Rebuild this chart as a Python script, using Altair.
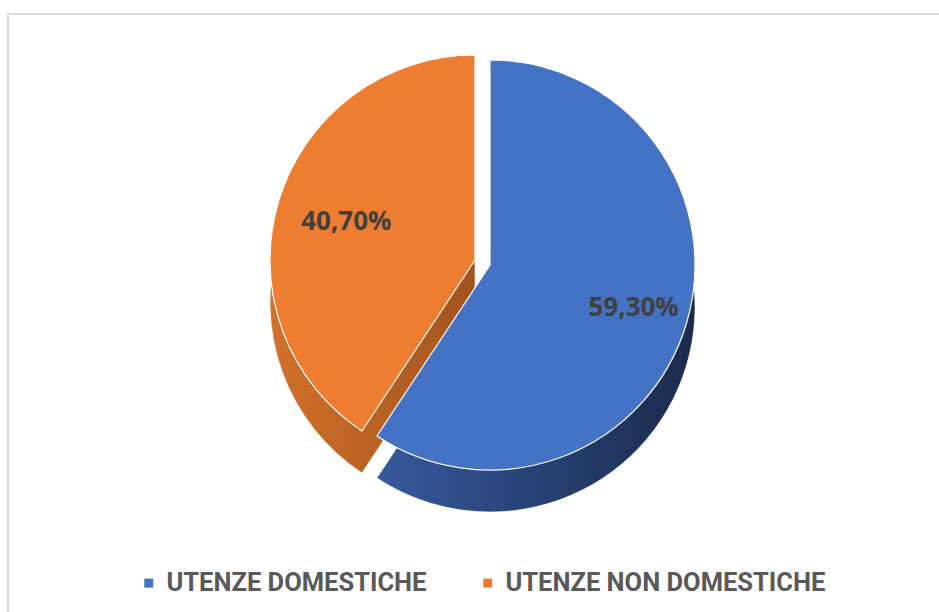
import math
import altair as alt
import pandas as pd

# ---- data ----
categories = ["UTENZE DOMESTICHE", "UTENZE NON DOMESTICHE"]
values = [59.3, 40.7]
labels = ["59,30%", "40,70%"]
colors = ["#4472c4", "#ed7d31"]

df = pd.DataFrame({
    "categoria": categories,
    "valore": values,
    "etichetta": labels,
    "ordine": list(range(len(categories))),
})

# ---- layout / style ----
W, H = 931, 598
CX, CY = 482, 251          # pie centre inside the view
R = 205                    # pie radius
D = 42                     # depth of the pseudo-3D side
EX, EY = -15, -5           # explosion of the second slice
LABEL_FONT = "Open Sans"
LEGEND_FONT = "Roboto"

theta_scale = alt.Scale(domain=[0, 100], range=[0, 2 * math.pi])

base = alt.Chart(df).transform_window(
    fine="sum(valore)", sort=[alt.SortField("ordine")]
).transform_calculate(
    inizio="datum.fine - datum.valore",
    mezzo="datum.fine - datum.valore / 2",
)

pos = dict(
    x=alt.value(CX),
    y=alt.value(CY),
    theta=alt.Theta("inizio:Q", scale=theta_scale),
    theta2="fine:Q",
)

blue_side_fill = {
    "gradient": "linear", "x1": 0, "x2": 1, "y1": 0, "y2": 0,
    "stops": [{"offset": 0, "color": "#37599c"}, {"offset": 1, "color": "#1a2a4b"}],
}
orange_side_fill = {
    "gradient": "linear", "x1": 0, "x2": 1, "y1": 0, "y2": 0,
    "stops": [{"offset": 0, "color": "#d2712c"}, {"offset": 1, "color": "#a1531c"}],
}

f_blue = alt.datum.categoria == categories[0]
f_orange = alt.datum.categoria == categories[1]

blue_side = base.transform_filter(f_blue).mark_arc(
    radius=R, yOffset=D, fill=blue_side_fill, stroke="#ffffff", strokeWidth=0.6
).encode(**pos)

orange_side = base.transform_filter(f_orange).mark_arc(
    radius=R, xOffset=EX, yOffset=EY + D, fill=orange_side_fill,
    stroke="#ffffff", strokeWidth=0.6
).encode(**pos)

legend = alt.Legend(
    title=None, orient="none", legendX=128, legendY=556,
    direction="horizontal", symbolType="square", symbolSize=81,
    symbolStrokeWidth=0, labelFont=LEGEND_FONT, labelFontSize=25.5,
    labelFontWeight="bold", labelColor="#595959", labelLimit=500,
    columnPadding=48, labelOffset=5, padding=0,
)
color = alt.Color(
    "categoria:N", scale=alt.Scale(domain=categories, range=colors), legend=legend
)

blue_top = base.transform_filter(f_blue).mark_arc(
    radius=R, stroke="#ffffff", strokeWidth=1.2
).encode(color=color, **pos)

orange_top = base.transform_filter(f_orange).mark_arc(
    radius=R, xOffset=EX, yOffset=EY, stroke="#ffffff", strokeWidth=1.2
).encode(color=color, **pos)

text = base.mark_text(
    font=LABEL_FONT, fontSize=26, fontWeight="bold", color="#404040",
    align="center", baseline="middle",
).encode(
    x=alt.value(CX), y=alt.value(CY),
    theta=alt.Theta("mezzo:Q", scale=theta_scale),
    radius=alt.value(150),
    text="etichetta:N",
)

# frame: only the top and left sides of the view outline are drawn
chart = alt.layer(blue_side, orange_side, blue_top, orange_top, text).properties(
    width=W, height=H,
    padding={"left": 8, "top": 14, "right": 0, "bottom": 0},
).configure_view(
    stroke="#d9d9d9", strokeWidth=2, strokeDash=[W, W + H, H + 2]
)

chart.save("out.html", embed_options={"renderer": "svg", "actions": False})
